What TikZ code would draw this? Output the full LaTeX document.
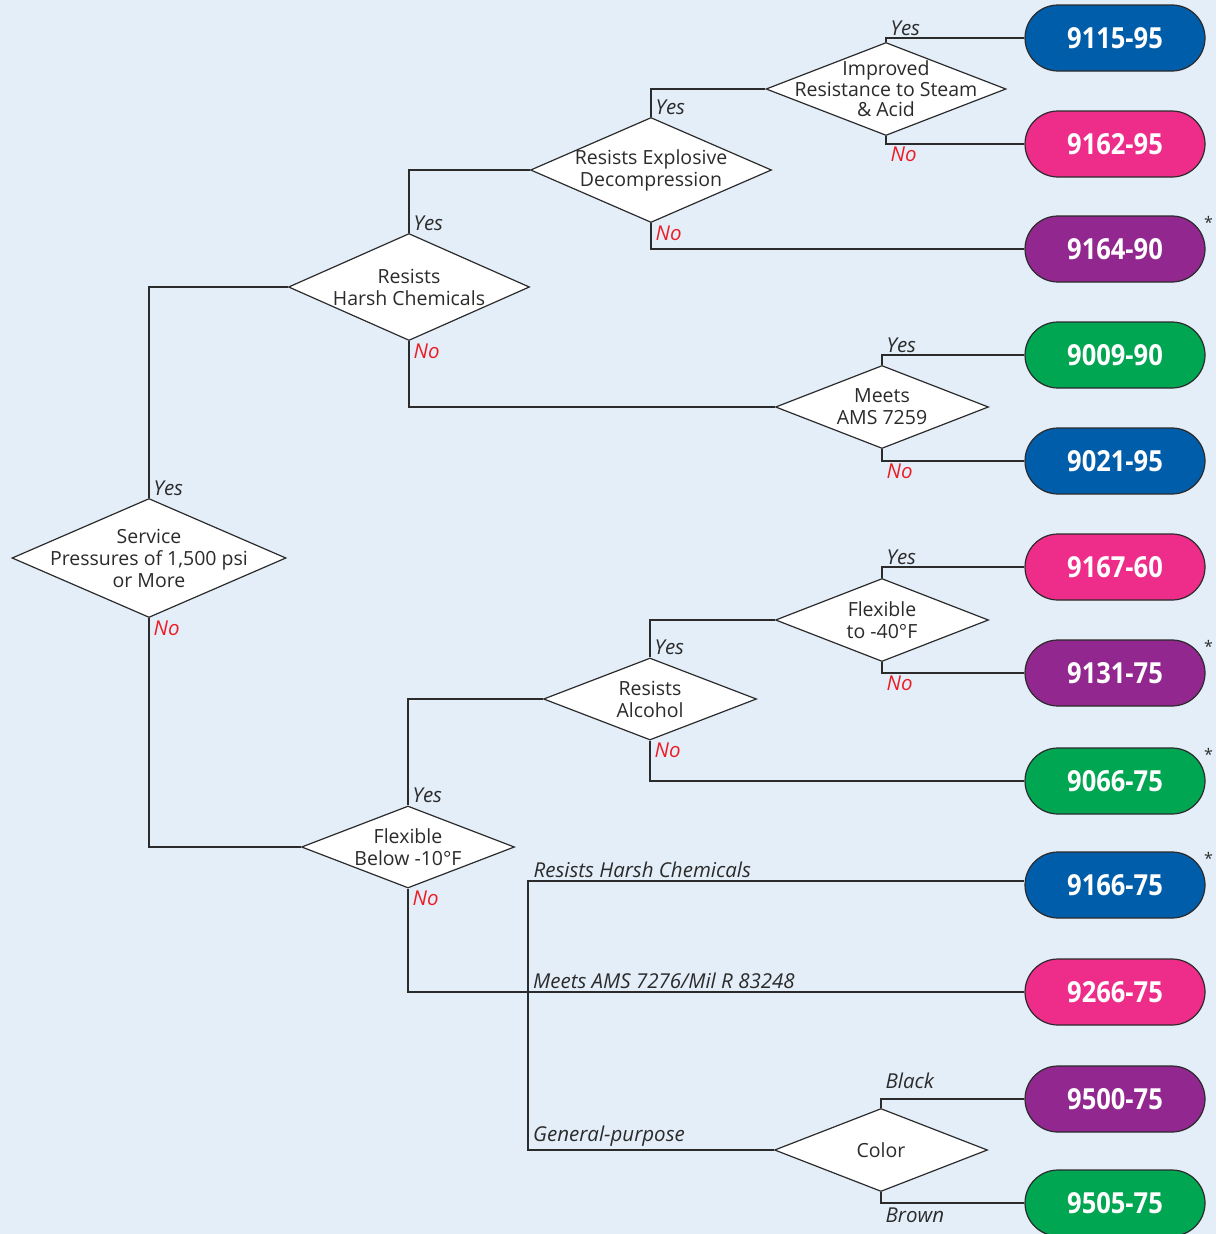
\documentclass[tikz,border=0pt]{standalone}
\usepackage{fontspec}
\setmainfont{Open Sans}
\newfontfamily\pillfont[FakeStretch=0.88]{Open Sans}
\usetikzlibrary{shapes.geometric}
\definecolor{bgblue}{HTML}{E4EEF9}
\definecolor{pblue}{HTML}{005DAA}
\definecolor{ppink}{HTML}{EE2D8A}
\definecolor{ppurple}{HTML}{92278F}
\definecolor{pgreen}{HTML}{00A651}
\definecolor{nored}{HTML}{ED1C24}
\definecolor{ink}{HTML}{2B2B2B}
\newcommand{\TxtFont}{\fontsize{19.5}{22}\selectfont}
\newcommand{\ItFont}{\fontsize{20.5}{22}\selectfont\itshape}
\tikzset{dia/.style={diamond,draw=ink,fill=white,line width=1.2pt,inner sep=0pt}}
\tikzset{dtxt/.style={align=center,text=ink,font=\TxtFont,inner sep=0pt}}
\tikzset{pill/.style={rectangle,rounded corners=33pt,minimum width=180pt,minimum height=66pt,draw=ink,line width=1.2pt,text=white,font=\pillfont\fontsize{29}{29}\selectfont\bfseries}}
\tikzset{wire/.style={draw=ink,line width=1.3pt}}
\tikzset{yes/.style={anchor=south west,inner sep=2pt,xshift=2pt,text=ink,font=\ItFont}}
\tikzset{no/.style={anchor=north west,inner sep=2pt,xshift=2pt,text=nored,font=\ItFont}}
\tikzset{brlab/.style={anchor=south west,inner xsep=5pt,inner ysep=3pt,text=ink,font=\ItFont}}
\tikzset{ast/.style={text=ink,font=\fontsize{16}{16}\selectfont,inner sep=0pt}}

\begin{document}
\begin{tikzpicture}[x=1pt,y=-1pt]
\fill[bgblue](0,0)rectangle(1216,1234);
\useasboundingbox(0,0)rectangle(1216,1234);\clip(0,0)rectangle(1216,1234);
\node[dia,minimum width=274pt,minimum height=119pt,label={[dtxt]center:Service\\Pressures of 1,500 psi\\or More}](svc)at(149,558){};
\node[dia,minimum width=241pt,minimum height=107pt,label={[dtxt]center:Resists\\Harsh Chemicals}](harsh)at(409,287){};
\node[dia,minimum width=241pt,minimum height=105pt,label={[dtxt]center:Resists Explosive\\Decompression}](expl)at(651,170){};
\node[dia,minimum width=240pt,minimum height=93pt,label={[dtxt,font=\fontsize{19.5}{20.5}\selectfont]center:Improved\\Resistance to Steam\\\& Acid}](steam)at(886,89){};
\node[dia,minimum width=213pt,minimum height=83pt,label={[dtxt]center:Meets\\AMS 7259}](ams)at(882,407){};
\node[dia,minimum width=213pt,minimum height=82pt,label={[dtxt]center:Flexible\\Below -10°F}](flx10)at(408,847){};
\node[dia,minimum width=213pt,minimum height=82pt,label={[dtxt]center:Resists\\Alcohol}](alc)at(650,699){};
\node[dia,minimum width=213pt,minimum height=83pt,label={[dtxt]center:Flexible\\to -40°F}](flx40)at(882,620){};
\node[dia,minimum width=213pt,minimum height=83pt,label={[dtxt]center:Color}](clr)at(881,1150){};
\node[pill,fill=pblue](p9115)at(1115,38){9115-95};
\node[pill,fill=ppink](p9162)at(1115,144){9162-95};
\node[pill,fill=ppurple](p9164)at(1115,249){9164-90};
\node[pill,fill=pgreen](p9009)at(1115,355){9009-90};
\node[pill,fill=pblue](p9021)at(1115,461){9021-95};
\node[pill,fill=ppink](p9167)at(1115,567){9167-60};
\node[pill,fill=ppurple](p9131)at(1115,673){9131-75};
\node[pill,fill=pgreen](p9066)at(1115,781){9066-75};
\node[pill,fill=pblue](p9166)at(1115,885){9166-75};
\node[pill,fill=ppink](p9266)at(1115,992){9266-75};
\node[pill,fill=ppurple](p9500)at(1115,1099){9500-75};
\node[pill,fill=pgreen](p9505)at(1115,1203){9505-75};
\foreach \p in {p9164,p9131,p9066,p9166}{\node[ast]at([shift={(3,7)}]\p.north east){*};}
\draw[wire](svc.north)|-node[pos=0,yes]{Yes}(harsh.west);\draw[wire](svc.south)|-node[pos=0,no]{No}(flx10.west);
\draw[wire](harsh.north)|-node[pos=0,yes]{Yes}(expl.west);\draw[wire](harsh.south)|-node[pos=0,no]{No}(ams.west);
\draw[wire](expl.north)|-node[pos=0,yes]{Yes}(steam.west);\draw[wire](expl.south)|-node[pos=0,no]{No}(p9164.west);
\draw[wire](steam.north)|-node[pos=.5,yes]{Yes}(p9115.west);\draw[wire](steam.south)|-node[pos=.5,no]{No}(p9162.west);
\draw[wire](ams.north)|-node[pos=.5,yes]{Yes}(p9009.west);\draw[wire](ams.south)|-node[pos=.5,no]{No}(p9021.west);
\draw[wire](flx10.north)|-node[pos=0,yes]{Yes}(alc.west);\draw[wire](flx10.south)|-node[pos=0,no]{No}(p9266.west);
\draw[wire](alc.north)|-node[pos=0,yes]{Yes}(flx40.west);\draw[wire](alc.south)|-node[pos=0,no]{No}(p9066.west);
\draw[wire](flx40.north)|-node[pos=.5,yes]{Yes}(p9167.west);\draw[wire](flx40.south)|-node[pos=.5,no]{No}(p9131.west);
\draw[wire](clr.north)|-node[pos=.5,yes,text=ink,yshift=8pt]{Black}(p9500.west);\draw[wire](clr.south)|-node[pos=.5,no,text=ink,yshift=-2pt]{Brown}(p9505.west);
\coordinate(jt)at(528,881);\coordinate(jb)at(528,1150);
\draw[wire](clr.west)--(jb)--(jt)--node[pos=0,brlab]{Resists Harsh Chemicals}(jt-|p9166.west);
\node[brlab]at(jt|-p9266.west){Meets AMS 7276/Mil R 83248};
\node[brlab]at(jb){General-purpose};
\end{tikzpicture}
\end{document}
